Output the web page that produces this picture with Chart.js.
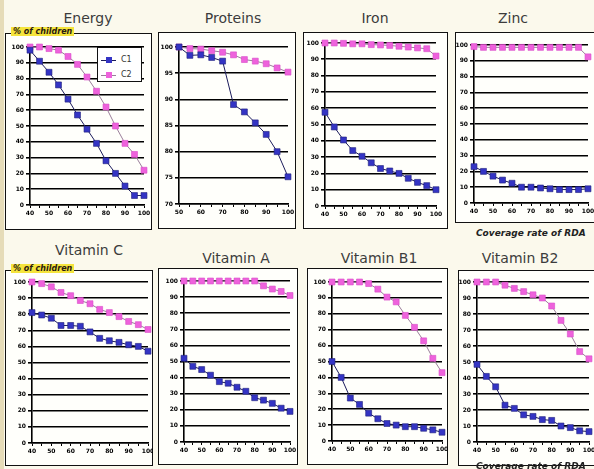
<!DOCTYPE html>
<html>
<head>
<meta charset="utf-8">
<script src="https://cdn.jsdelivr.net/npm/chart.js@4.4.1/dist/chart.umd.min.js"></script>
<style>
body { margin:0; width:594px; height:469px; background:#fbf9ec; position:relative; overflow:hidden; font-family:"DejaVu Sans", sans-serif; }
.strip { position:absolute; left:0; top:0; width:4px; height:469px; background:#e6dcb8; }
.frame { position:absolute; border:1px solid #111; background:#fffffb; box-sizing:border-box; }
canvas { position:absolute; }
.title { position:absolute; font-size:14px; color:#3c3c3c; transform:translate(-50%,-50%); white-space:nowrap; }
.ylab { position:absolute; font-size:8px; font-weight:bold; font-style:italic; color:#2a1a10; background:#f5e43c; padding:0 2px; white-space:nowrap; }
.cov { position:absolute; font-size:9px; font-weight:bold; font-style:italic; color:#222; white-space:nowrap; }
.legend { position:absolute; left:97px; top:47px; width:45px; height:35px; border:1px solid #111; background:#fff; box-sizing:border-box; }
.legend div { position:absolute; left:3px; font-size:8px; color:#333; }
.legend .ln { position:absolute; left:0; top:4px; width:15px; height:1px; }
.legend .mk { position:absolute; left:5px; top:1px; width:6px; height:6px; }
.legend .tx { position:absolute; left:20px; top:-1px; }
</style>
</head>
<body>
<div class="strip"></div>
<script>
// x categories (coverage rate of RDA, %)
const xCov = [40, 45, 50, 55, 60, 65, 70, 75, 80, 85, 90, 95, 100];
const xProt = [50, 55, 60, 65, 70, 75, 80, 85, 90, 95, 100];

// % of children, series C1 and C2
const energyC1 = [98, 91, 84, 76, 67, 57, 48, 39, 28, 20, 12, 6, 6];
const energyC2 = [100, 100, 99, 98, 94, 89, 81, 72, 62, 50, 39, 32, 22];
const proteinsC1 = [100, 98.4, 98.5, 98, 97.3, 89, 87.6, 85.5, 83.3, 80, 75.2];
const proteinsC2 = [100, 99.7, 99.6, 99.3, 99, 98.5, 97.6, 97.3, 96.8, 96, 95.2];
const ironC1 = [57.5, 48.5, 40.5, 34, 30.5, 26.5, 23, 21.5, 20, 17, 14.5, 12.5, 10];
const ironC2 = [100, 100, 99.8, 99.5, 99.5, 99, 98.8, 98.5, 98, 97.5, 97, 96.5, 92];
const zincC1 = [23, 20, 17, 14.5, 12.5, 10, 10, 9.5, 9, 8.5, 8.5, 8.5, 9];
const zincC2 = [99, 98.5, 98.5, 98.5, 98.5, 98.5, 98.5, 98.5, 98.5, 98.5, 98.5, 98.5, 92.5];
const vitCC1 = [81, 79.5, 77.5, 73, 73, 72.5, 69, 65, 63.5, 62.5, 61, 60, 57];
const vitCC2 = [100, 99, 97, 93.5, 91.5, 88.5, 86.5, 83, 81, 78.5, 75.5, 73.5, 70.5];
const vitAC1 = [52, 47, 45, 41.5, 37.5, 36.5, 34, 31.5, 27.5, 26, 24, 21, 19];
const vitAC2 = [100, 100, 100, 100, 100, 100, 100, 100, 100, 97, 95, 93.5, 91];
const vitB1C1 = [50, 40, 27, 23, 17.5, 14, 11, 10, 9, 9, 8, 7, 5.5];
const vitB1C2 = [100, 100, 100, 100, 99, 95.5, 90.5, 87.5, 79, 71.5, 63, 52, 43];
const vitB2C1 = [48.5, 41, 34.5, 23, 21, 17, 16, 14, 13.5, 10, 9, 7, 6.5];
const vitB2C2 = [100, 100, 100, 98, 96, 94, 92, 90, 85, 76, 67.5, 56.5, 52];

const seriesNames = ['C1', 'C2'];

// frame = [left, top, width, height], plot = [x0, y0, x1, y1] in page px
const panels = [
  {title:'Energy', t:[88,18], frame:[5,33,147,197], plot:[30,47,144,205], x:xCov, c1:energyC1, c2:energyC2, min:0, max:100, step:10},
  {title:'Proteins', t:[233,18], frame:[158,32,138,197], plot:[179,47,288,204], x:xProt, c1:proteinsC1, c2:proteinsC2, min:70, max:100, step:5},
  {title:'Iron', t:[375,18], frame:[303,32,145,197], plot:[325,43,436,206], x:xCov, c1:ironC1, c2:ironC2, min:0, max:100, step:10},
  {title:'Zinc', t:[513,18], frame:[455,32,145,191], plot:[474,45,588,203], x:xCov, c1:zincC1, c2:zincC2, min:0, max:100, step:10},
  {title:'Vitamin C', t:[89,250], frame:[5,270,148,196], plot:[32,282,148,443], x:xCov, c1:vitCC1, c2:vitCC2, min:0, max:100, step:10},
  {title:'Vitamin A', t:[236,258], frame:[158,268,140,197], plot:[184,281,290,442], x:xCov, c1:vitAC1, c2:vitAC2, min:0, max:100, step:10},
  {title:'Vitamin B1', t:[379,258], frame:[307,268,141,197], plot:[332,282,442,441], x:xCov, c1:vitB1C1, c2:vitB1C2, min:0, max:100, step:10},
  {title:'Vitamin B2', t:[520,258], frame:[458,270,142,196], plot:[477,282,589,442], x:xCov, c1:vitB2C1, c2:vitB2C2, min:0, max:100, step:10}
];

const tickFont = {family:'DejaVu Sans', size:6, weight:'bold'};

panels.forEach(function(p) {
  var f = p.frame;
  var fr = document.createElement('div');
  fr.className = 'frame';
  fr.style.left = f[0] + 'px'; fr.style.top = f[1] + 'px';
  fr.style.width = f[2] + 'px'; fr.style.height = f[3] + 'px';
  document.body.appendChild(fr);

  var t = document.createElement('div');
  t.className = 'title';
  t.textContent = p.title;
  t.style.left = p.t[0] + 'px'; t.style.top = p.t[1] + 'px';
  document.body.appendChild(t);

  var cv = document.createElement('canvas');
  cv.width = f[2]; cv.height = f[3];
  cv.style.left = f[0] + 'px'; cv.style.top = f[1] + 'px';
  cv.style.width = f[2] + 'px'; cv.style.height = f[3] + 'px';
  document.body.appendChild(cv);

  var yW = p.plot[0] - f[0];
  var xH = f[1] + f[3] - p.plot[3];
  new Chart(cv.getContext('2d'), {
    type: 'line',
    data: {
      labels: p.x,
      datasets: [
        {label: seriesNames[0], data: p.c1, borderColor:'#1c1c5c', borderWidth:1,
         pointStyle:'rect', pointRadius:4.2, pointBackgroundColor:'#3434c4', pointBorderColor:'#20207a', pointBorderWidth:0.6, clip:false},
        {label: seriesNames[1], data: p.c2, borderColor:'#9a7e9a', borderWidth:1,
         pointStyle:'rect', pointRadius:4.2, pointBackgroundColor:'#ee62dc', pointBorderColor:'#d84cc8', pointBorderWidth:0.6, clip:false}
      ]
    },
    options: {
      responsive: false,
      animation: false,
      layout: {padding: {left:0, top:p.plot[1] - f[1], right:f[0] + f[2] - p.plot[2], bottom:0}},
      plugins: {legend: {display:false}, tooltip: {enabled:false}},
      scales: {
        x: {
          grid: {drawOnChartArea:false, color:'#000', tickLength:3},
          border: {color:'#000', width:1.6},
          ticks: {color:'#000', font:tickFont, autoSkip:false, maxRotation:0, padding:2,
            callback: function(v, i) { return i % 2 === 0 ? this.getLabelForValue(v) : ''; }},
          afterFit: function(s) { s.height = xH; s.paddingLeft = 0; s.paddingRight = 0; }
        },
        y: {
          min: p.min, max: p.max,
          grid: {color:'#000', lineWidth:1.6, tickLength:4},
          border: {color:'#000', width:1.6},
          ticks: {color:'#000', font:tickFont, stepSize:p.step, padding:2},
          afterFit: function(s) { s.width = yW; s.paddingTop = 0; s.paddingBottom = 0; }
        }
      }
    }
  });
});
</script>
<div class="ylab" style="left:11px;top:27px;">% of children</div>
<div class="ylab" style="left:11px;top:264px;">% of children</div>
<div class="legend">
  <div style="top:8px;"><span class="ln" style="background:#1c1c5c"></span><span class="mk" style="background:#3434c4"></span><span class="tx">C1</span></div>
  <div style="top:23px;"><span class="ln" style="background:#9a7e9a"></span><span class="mk" style="background:#ee62dc"></span><span class="tx">C2</span></div>
</div>
<div class="cov" style="left:476px;top:228px;">Coverage rate of RDA</div>
<div class="cov" style="left:476px;top:461px;">Coverage rate of RDA</div>
</body>
</html>
